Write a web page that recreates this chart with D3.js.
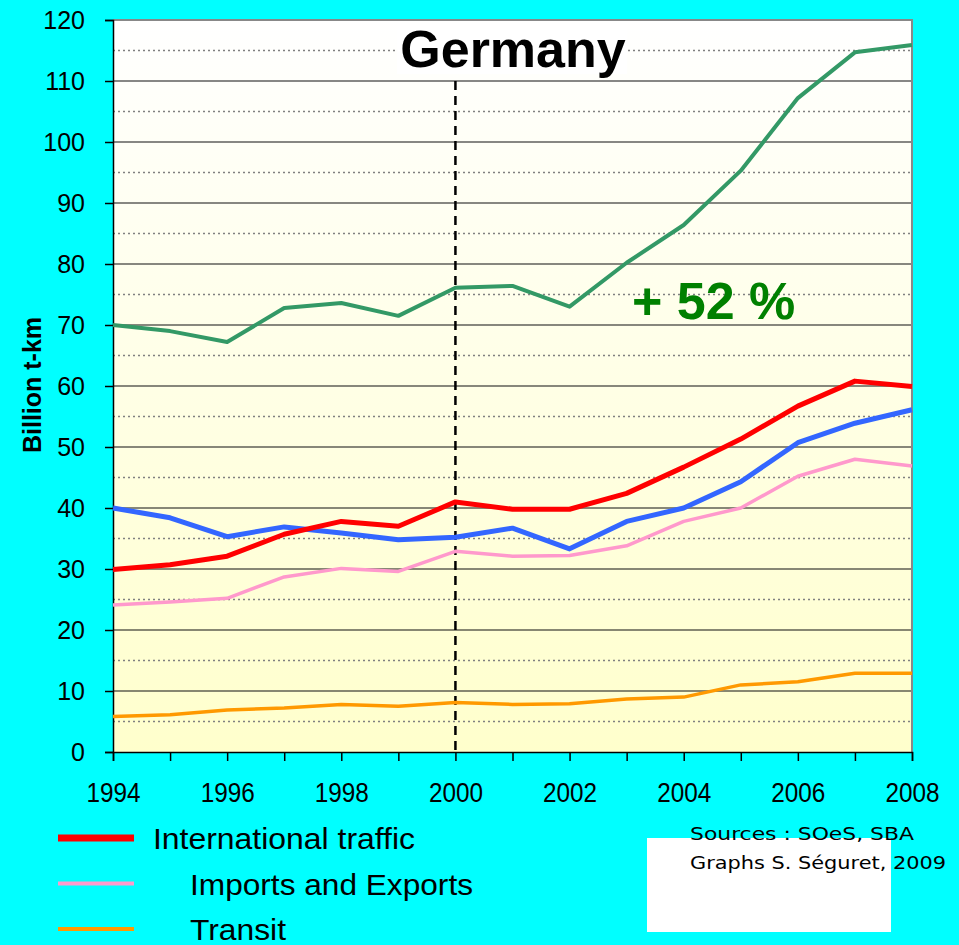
<!DOCTYPE html>
<html>
<head>
<meta charset="utf-8">
<script src="https://cdn.jsdelivr.net/npm/d3@7"></script>
<style>
  html, body { margin: 0; padding: 0; background: #00FFFF; }
  svg { display: block; }
</style>
</head>
<body>
<svg id="chart" width="959" height="945"></svg>
<script>
// data (billion t-km)
const years = [1994, 1995, 1996, 1997, 1998, 1999, 2000, 2001, 2002, 2003, 2004, 2005, 2006, 2007, 2008];
const yearLabels = [1994, 1996, 1998, 2000, 2002, 2004, 2006, 2008];
const yTicks = [0, 10, 20, 30, 40, 50, 60, 70, 80, 90, 100, 110, 120];
const totalVals = [70.0, 69.0, 67.2, 72.8, 73.6, 71.5, 76.1, 76.4, 73.0, 80.2, 86.4, 95.3, 107.2, 114.7, 115.9];
const intlVals = [29.9, 30.7, 32.1, 35.7, 37.8, 37.0, 41.0, 39.8, 39.8, 42.4, 46.7, 51.3, 56.7, 60.8, 59.9];
const domesticVals = [40.0, 38.4, 35.3, 36.9, 35.9, 34.8, 35.2, 36.7, 33.3, 37.8, 40.0, 44.3, 50.7, 53.9, 56.1];
const impExpVals = [24.1, 24.6, 25.2, 28.7, 30.1, 29.6, 32.9, 32.1, 32.2, 33.8, 37.8, 40.0, 45.2, 48.0, 46.9];
const transitVals = [5.8, 6.1, 6.9, 7.2, 7.8, 7.5, 8.1, 7.8, 7.9, 8.7, 9.0, 11.0, 11.5, 12.9, 12.9];

const series = [
  { name: 'Total', values: totalVals, color: '#339966', width: 4 },
  { name: 'Imports and Exports', values: impExpVals, color: '#FF99CC', width: 3.5 },
  { name: 'Transit', values: transitVals, color: '#FF9900', width: 3.5 },
  { name: 'Domestic', values: domesticVals, color: '#3366FF', width: 5 },
  { name: 'International traffic', values: intlVals, color: '#FF0000', width: 5 }
];

const legendItems = [
  { label: 'International traffic', color: '#FF0000', width: 7, x: 153, len: 262 },
  { label: 'Imports and Exports', color: '#FF99CC', width: 4, x: 190, len: 283 },
  { label: 'Transit', color: '#FF9900', width: 4, x: 190, len: 96 }
];

const svg = d3.select('#chart');
const margin = { top: 20, right: 47, bottom: 193, left: 113 };
const width = 959 - margin.left - margin.right;
const height = 945 - margin.top - margin.bottom;

const x = d3.scaleLinear().domain([1994, 2008]).range([0, width]);
const y = d3.scaleLinear().domain([0, 120]).range([height, 0]);

// background gradient of the plot
const defs = svg.append('defs');
const grad = defs.append('linearGradient')
  .attr('id', 'plotBg').attr('x1', 0).attr('y1', 0).attr('x2', 0).attr('y2', 1);
grad.append('stop').attr('offset', '0%').attr('stop-color', '#FFFFFF');
grad.append('stop').attr('offset', '100%').attr('stop-color', '#FFFFCC');

const g = svg.append('g').attr('transform', `translate(${margin.left},${margin.top})`);

g.append('rect')
  .attr('width', width).attr('height', height)
  .attr('fill', 'url(#plotBg)');

// dotted half gridlines
const halfTicks = d3.range(5, 120, 10);
g.selectAll('.minor-grid')
  .data(halfTicks)
  .enter().append('line')
  .attr('class', 'minor-grid')
  .attr('x1', 0).attr('x2', width)
  .attr('y1', d => y(d)).attr('y2', d => y(d))
  .attr('stroke', '#808080')
  .attr('stroke-width', 1.5)
  .attr('stroke-dasharray', '2,3');

// solid gridlines
g.selectAll('.major-grid')
  .data(yTicks.filter(d => d > 0 && d < 120))
  .enter().append('line')
  .attr('class', 'major-grid')
  .attr('x1', 0).attr('x2', width)
  .attr('y1', d => y(d)).attr('y2', d => y(d))
  .attr('stroke', '#111')
  .attr('stroke-width', 1.2);

// plot border (top/right gray)
g.append('path')
  .attr('d', `M0,0H${width}V${height}`)
  .attr('fill', 'none')
  .attr('stroke', '#888')
  .attr('stroke-width', 2);

// y axis
const yAxis = g.append('g')
  .call(d3.axisLeft(y).tickValues(yTicks).tickSize(8).tickPadding(20));
yAxis.select('.domain').attr('stroke', '#000').attr('stroke-width', 1.5);
yAxis.selectAll('.tick line').attr('stroke', '#000').attr('stroke-width', 1.5);
yAxis.selectAll('.tick text')
  .attr('font-family', 'Liberation Sans, Arial, sans-serif')
  .attr('font-size', 25)
  .attr('fill', '#000');

// x axis
const xAxis = g.append('g')
  .attr('transform', `translate(0,${height})`)
  .call(d3.axisBottom(x).tickValues(years).tickSize(9).tickFormat(d => yearLabels.includes(d) ? d : ''));
xAxis.select('.domain').attr('stroke', '#000').attr('stroke-width', 1.5);
xAxis.selectAll('.tick line').attr('stroke', '#000').attr('stroke-width', 1.5);
xAxis.selectAll('.tick text')
  .attr('y', 30)
  .attr('dy', '0.71em')
  .attr('font-family', 'Liberation Sans, Arial, sans-serif')
  .attr('font-size', 28)
  .attr('textLength', d => yearLabels.includes(d) ? 54 : null)
  .attr('lengthAdjust', 'spacingAndGlyphs')
  .attr('fill', '#000');

// dashed marker at 2000
g.append('line')
  .attr('x1', x(2000)).attr('x2', x(2000))
  .attr('y1', y(110)).attr('y2', height)
  .attr('stroke', '#000')
  .attr('stroke-width', 2.5)
  .attr('stroke-dasharray', '9,6');

// series lines
const line = d3.line()
  .x((d, i) => x(years[i]))
  .y(d => y(d));

g.selectAll('.series')
  .data(series)
  .enter().append('path')
  .attr('class', 'series')
  .attr('d', d => line(d.values))
  .attr('fill', 'none')
  .attr('stroke', d => d.color)
  .attr('stroke-width', d => d.width)
  .attr('stroke-linejoin', 'round');

// title on a white patch, and annotation
g.append('rect')
  .attr('x', 397 - margin.left).attr('y', 24 - margin.top)
  .attr('width', 230).attr('height', 50)
  .attr('fill', '#fff');

g.append('text')
  .attr('x', 513 - margin.left).attr('y', 67 - margin.top)
  .attr('text-anchor', 'middle')
  .attr('font-family', 'Liberation Sans, Arial, sans-serif')
  .attr('font-weight', 'bold')
  .attr('font-size', 52)
  .attr('fill', '#000')
  .text('Germany');

g.append('text')
  .attr('x', 632 - margin.left).attr('y', 319 - margin.top)
  .attr('font-family', 'Liberation Sans, Arial, sans-serif')
  .attr('font-weight', 'bold')
  .attr('font-size', 52)
  .attr('fill', '#008000')
  .text('+ 52 %');

// y label
svg.append('text')
  .attr('transform', 'translate(41,385) rotate(-90)')
  .attr('text-anchor', 'middle')
  .attr('font-family', 'Liberation Sans, Arial, sans-serif')
  .attr('font-weight', 'bold')
  .attr('font-size', 25)
  .attr('fill', '#000')
  .text('Billion t-km');

// white box + sources
svg.append('rect')
  .attr('x', 647).attr('y', 838).attr('width', 244).attr('height', 94)
  .attr('fill', '#fff');

const src = svg.append('text')
  .attr('font-family', 'DejaVu Sans Condensed, DejaVu Sans, sans-serif')
  .attr('font-size', 18)
  .attr('fill', '#000');
src.append('tspan').attr('x', 690).attr('y', 840)
  .attr('textLength', 224).attr('lengthAdjust', 'spacingAndGlyphs').text('Sources : SOeS, SBA');
src.append('tspan').attr('x', 690).attr('y', 869)
  .attr('textLength', 256).attr('lengthAdjust', 'spacingAndGlyphs').text('Graphs S. Séguret, 2009');

// legend
const legend = svg.append('g');
legendItems.forEach((d, i) => {
  const ly = 838 + i * 45.5;
  legend.append('line')
    .attr('x1', 58).attr('x2', 134)
    .attr('y1', ly).attr('y2', ly)
    .attr('stroke', d.color)
    .attr('stroke-width', d.width);
  legend.append('text')
    .attr('x', d.x).attr('y', ly + 11)
    .attr('font-family', 'Liberation Sans, Arial, sans-serif')
    .attr('font-size', 30)
    .attr('textLength', d.len)
    .attr('lengthAdjust', 'spacingAndGlyphs')
    .attr('fill', '#000')
    .text(d.label);
});
</script>
</body>
</html>
